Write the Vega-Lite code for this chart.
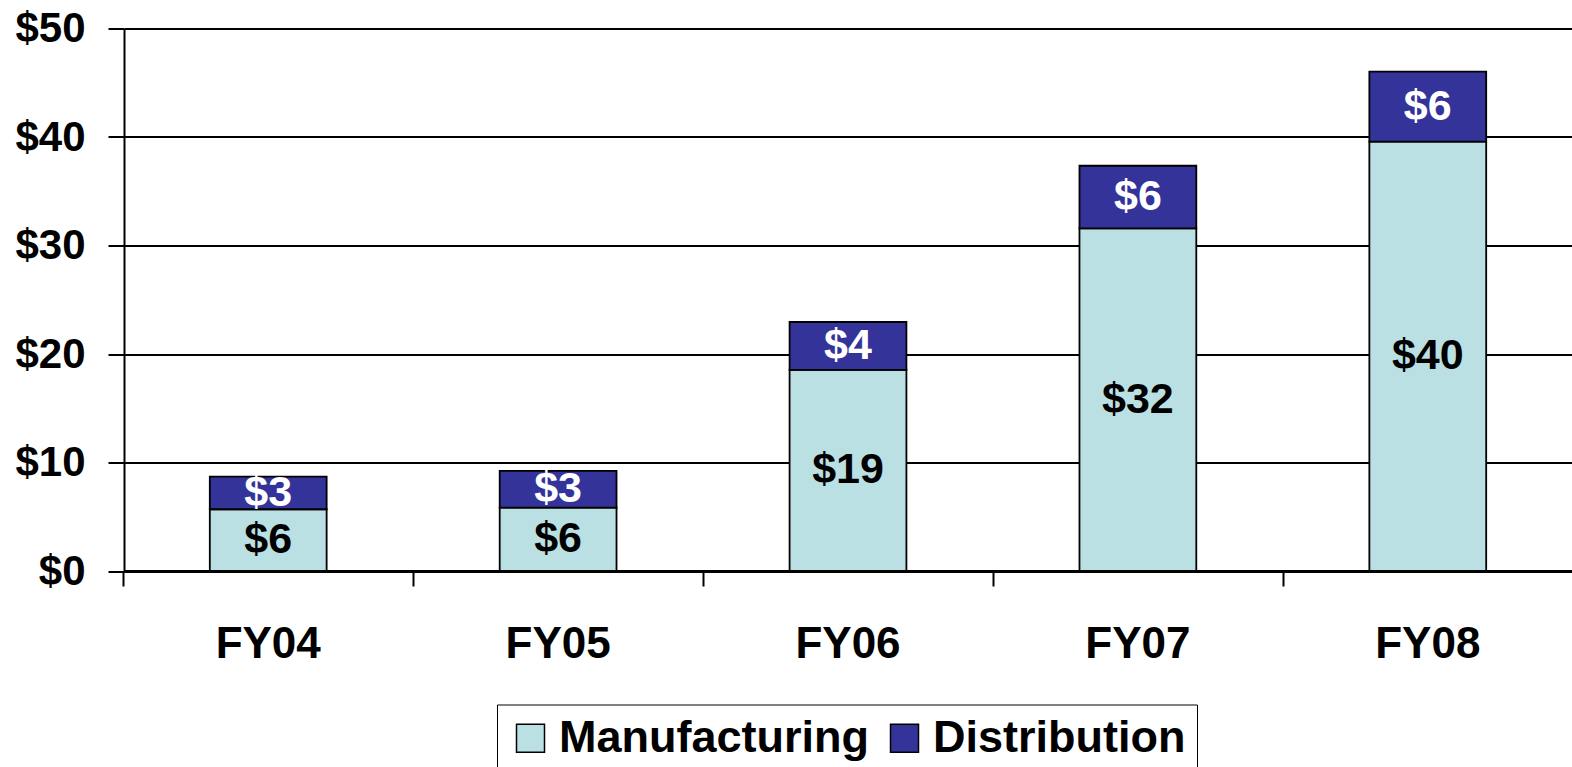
{
  "$schema": "https://vega.github.io/schema/vega-lite/v6.json",
  "width": 1448,
  "height": 542.5,
  "autosize": {"type": "none"},
  "padding": {"left": 124, "top": 28.5, "right": 0, "bottom": 196},
  "background": "white",
  "config": {"font": "Liberation Sans", "view": {"stroke": null}},
  "data": {
    "values": [
      {"year": "FY04", "segment": "Manufacturing", "value": 5.69},
      {"year": "FY04", "segment": "Distribution", "value": 3.0},
      {"year": "FY05", "segment": "Manufacturing", "value": 5.84},
      {"year": "FY05", "segment": "Distribution", "value": 3.38},
      {"year": "FY06", "segment": "Manufacturing", "value": 18.53},
      {"year": "FY06", "segment": "Distribution", "value": 4.42},
      {"year": "FY07", "segment": "Manufacturing", "value": 31.58},
      {"year": "FY07", "segment": "Distribution", "value": 5.77},
      {"year": "FY08", "segment": "Manufacturing", "value": 39.57},
      {"year": "FY08", "segment": "Distribution", "value": 6.45}
    ]
  },
  "encoding": {
    "x": {
      "field": "year",
      "type": "nominal",
      "sort": null,
      "scale": {"paddingInner": 0.597, "paddingOuter": 0.296},
      "axis": {
        "title": null,
        "labelAngle": 0,
        "bandPosition": -0.7345,
        "labelFontSize": 44,
        "labelFontWeight": "bold",
        "labelColor": "black",
        "labelPadding": 36,
        "tickSize": 15,
        "tickColor": "black",
        "tickWidth": 2,
        "domainColor": "black",
        "domainWidth": 3,
        "grid": false
      }
    }
  },
  "layer": [
    {
      "mark": {"type": "bar", "stroke": "black", "strokeWidth": 1.8},
      "encoding": {
        "y": {
          "field": "value",
          "type": "quantitative",
          "stack": "zero",
          "scale": {"domain": [0, 50], "nice": false},
          "axis": {
            "title": null,
            "values": [0, 10, 20, 30, 40, 50],
            "format": "$.0f",
            "labelFontSize": 42,
            "labelFontWeight": "bold",
            "labelColor": "black",
            "labelPadding": 23,
            "tickSize": 16,
            "tickColor": "black",
            "tickWidth": 2,
            "domainColor": "black",
            "domainWidth": 2,
            "grid": true,
            "gridColor": "black",
            "gridWidth": 2
          }
        },
        "fill": {
          "field": "segment",
          "type": "nominal",
          "scale": {"domain": ["Manufacturing", "Distribution"], "range": ["#BAE0E3", "#333399"]},
          "legend": {
            "orient": "none",
            "legendX": 373,
            "legendY": 676,
            "direction": "horizontal",
            "title": null,
            "labelFontSize": 45,
            "labelFont": "Liberation Sans",
            "labelFontWeight": "bold",
            "labelColor": "black",
            "labelLimit": 0,
            "symbolType": "square",
            "symbolSize": 784,
            "symbolStrokeColor": "black",
            "symbolStrokeWidth": 1.5,
            "symbolOpacity": 1,
            "strokeColor": "black",
            "padding": 11,
            "labelOffset": 6,
            "columnPadding": 13
          }
        },
        "order": {"field": "segment", "sort": "descending"}
      }
    },
    {
      "mark": {"type": "text", "fontSize": 43, "fontWeight": "bold", "baseline": "middle"},
      "encoding": {
        "y": {"field": "value", "type": "quantitative", "stack": "zero", "bandPosition": 0.5},
        "detail": {"field": "segment"},
        "order": {"field": "segment", "sort": "descending"},
        "text": {"field": "value", "type": "quantitative", "format": "$.0f"},
        "color": {
          "condition": {"test": "datum.segment === 'Distribution'", "value": "white"},
          "value": "black"
        }
      }
    }
  ]
}
